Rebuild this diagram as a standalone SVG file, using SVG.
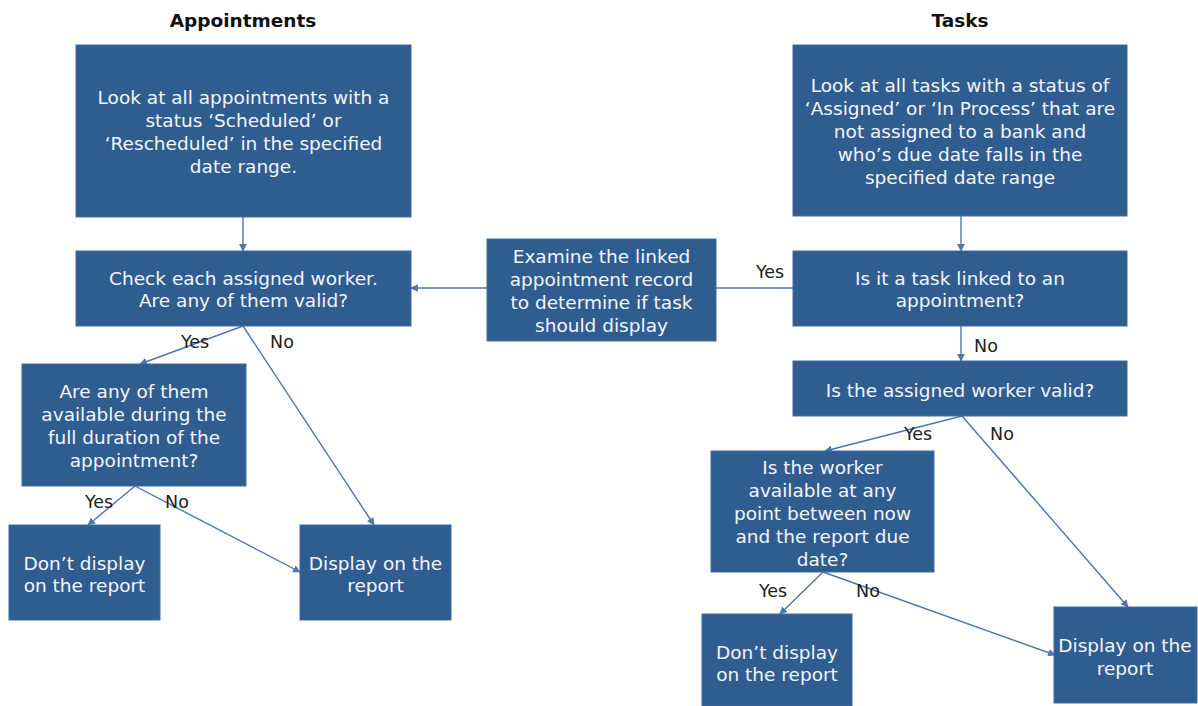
<svg xmlns="http://www.w3.org/2000/svg" width="1198" height="706" viewBox="0 0 1198 706">
<defs>
<style>
.box{fill:#305d90;stroke:#3f6ba0;stroke-width:1}
.bt{font-family:"DejaVu Sans","Liberation Sans",sans-serif;font-size:18.5px;fill:#f2f5fa;text-anchor:middle}
.title{font-family:"DejaVu Sans","Liberation Sans",sans-serif;font-size:18.5px;font-weight:bold;fill:#111;text-anchor:middle}
.lbl{font-family:"DejaVu Sans","Liberation Sans",sans-serif;font-size:17.5px;fill:#222;text-anchor:middle}
.cn{stroke:#4f76aa;stroke-width:1.4;fill:none;marker-end:url(#ah)}
</style>
<marker id="ah" viewBox="0 0 10 10" refX="9" refY="5" markerWidth="5.5" markerHeight="5.5" orient="auto" markerUnits="strokeWidth">
<path d="M0,0 L10,5 L0,10 z" fill="#4f76aa"/>
</marker>
</defs>
<rect width="1198" height="706" fill="#ffffff"/>
<text class="title" x="243" y="27">Appointments</text>
<text class="title" x="960" y="27">Tasks</text>
<g id="connectors">
<line class="cn" x1="243" y1="217" x2="243" y2="251"/>
<line class="cn" x1="793" y1="288" x2="411" y2="288"/>
<line class="cn" x1="243" y1="326" x2="140" y2="364"/>
<line class="cn" x1="243" y1="326" x2="374" y2="525"/>
<line class="cn" x1="135" y1="486" x2="88" y2="525"/>
<line class="cn" x1="135" y1="486" x2="300" y2="572"/>
<line class="cn" x1="961" y1="216" x2="961" y2="251"/>
<line class="cn" x1="961" y1="326" x2="961" y2="361"/>
<line class="cn" x1="962" y1="416" x2="825" y2="451"/>
<line class="cn" x1="962" y1="416" x2="1128" y2="607"/>
<line class="cn" x1="823" y1="572" x2="780" y2="614"/>
<line class="cn" x1="823" y1="572" x2="1055" y2="655"/>
<text class="lbl" x="195" y="348">Yes</text>
<text class="lbl" x="282" y="348">No</text>
<text class="lbl" x="99" y="508">Yes</text>
<text class="lbl" x="177" y="508">No</text>
<text class="lbl" x="770" y="278">Yes</text>
<text class="lbl" x="986" y="352">No</text>
<text class="lbl" x="918" y="440">Yes</text>
<text class="lbl" x="1002" y="440">No</text>
<text class="lbl" x="773" y="597">Yes</text>
<text class="lbl" x="868" y="597">No</text>
</g>
<g id="a1">
<rect class="box" x="76" y="45" width="335" height="172"/>
<text class="bt" x="243.5" y="104">Look at all appointments with a</text>
<text class="bt" x="243.5" y="127">status ‘Scheduled’ or</text>
<text class="bt" x="243.5" y="150">‘Rescheduled’ in the specified</text>
<text class="bt" x="243.5" y="173">date range.</text>
</g>
<g id="a2">
<rect class="box" x="76" y="251" width="335" height="75"/>
<text class="bt" x="243.5" y="285">Check each assigned worker.</text>
<text class="bt" x="243.5" y="307">Are any of them valid?</text>
</g>
<g id="a3">
<rect class="box" x="22" y="364" width="224" height="122"/>
<text class="bt" x="134" y="398">Are any of them</text>
<text class="bt" x="134" y="421">available during the</text>
<text class="bt" x="134" y="444">full duration of the</text>
<text class="bt" x="134" y="467">appointment?</text>
</g>
<g id="a4">
<rect class="box" x="9" y="525" width="151" height="95"/>
<text class="bt" x="84.5" y="570">Don’t display</text>
<text class="bt" x="84.5" y="592">on the report</text>
</g>
<g id="a5">
<rect class="box" x="300" y="525" width="151" height="95"/>
<text class="bt" x="375.5" y="570">Display on the</text>
<text class="bt" x="375.5" y="592">report</text>
</g>
<g id="m1">
<rect class="box" x="487" y="239" width="229" height="102"/>
<text class="bt" x="601.5" y="263">Examine the linked</text>
<text class="bt" x="601.5" y="286">appointment record</text>
<text class="bt" x="601.5" y="309">to determine if task</text>
<text class="bt" x="601.5" y="332">should display</text>
</g>
<g id="t1">
<rect class="box" x="793" y="45" width="334" height="171"/>
<text class="bt" x="960" y="92">Look at all tasks with a status of</text>
<text class="bt" x="960" y="115">‘Assigned’ or ‘In Process’ that are</text>
<text class="bt" x="960" y="138">not assigned to a bank and</text>
<text class="bt" x="960" y="161">who’s due date falls in the</text>
<text class="bt" x="960" y="184">specified date range</text>
</g>
<g id="t2">
<rect class="box" x="793" y="251" width="334" height="75"/>
<text class="bt" x="960" y="285">Is it a task linked to an</text>
<text class="bt" x="960" y="307">appointment?</text>
</g>
<g id="t3">
<rect class="box" x="793" y="361" width="334" height="55"/>
<text class="bt" x="960" y="397">Is the assigned worker valid?</text>
</g>
<g id="t4">
<rect class="box" x="711" y="451" width="223" height="121"/>
<text class="bt" x="822.5" y="474">Is the worker</text>
<text class="bt" x="822.5" y="497">available at any</text>
<text class="bt" x="822.5" y="520">point between now</text>
<text class="bt" x="822.5" y="543">and the report due</text>
<text class="bt" x="822.5" y="566">date?</text>
</g>
<g id="t5">
<rect class="box" x="702" y="614" width="150" height="92"/>
<text class="bt" x="777" y="659">Don’t display</text>
<text class="bt" x="777" y="681">on the report</text>
</g>
<g id="t6">
<rect class="box" x="1054" y="607" width="143" height="96"/>
<text class="bt" x="1125" y="652">Display on the</text>
<text class="bt" x="1125" y="675">report</text>
</g>
</svg>
